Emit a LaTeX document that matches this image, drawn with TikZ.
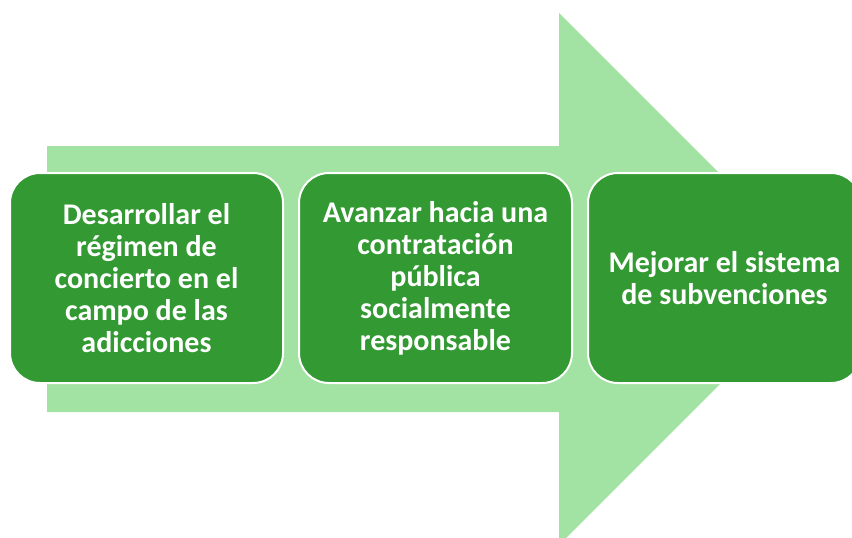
\documentclass[tikz,border=0pt]{standalone}
\usepackage{fontspec}
\setmainfont{Carlito}
\definecolor{darkg}{HTML}{339933}
\definecolor{lightg}{HTML}{A2E2A2}
\begin{document}
\begin{tikzpicture}[x=1pt,y=-1pt,
  stepbox/.style={draw=white,line width=2pt,fill=darkg,rounded corners=30pt,
    minimum width=273pt,minimum height=210pt,inner sep=0pt,
    text=white,align=center,font=\bfseries\fontsize{30}{32}\selectfont}]
\useasboundingbox (0,0) rectangle (852,538);
\begin{scope}
\clip (0,0) rectangle (852,538);
\fill[lightg] (47,146) -- (559,146) -- (559,13) -- (825,279) -- (559,545) -- (559,412) -- (47,412) -- cycle;
\node[stepbox] (a) at (146.5,278) {Desarrollar el\\régimen de\\concierto en el\\campo de las\\adicciones};
\node[stepbox] (b) at (435.5,278) {Avanzar hacia una\\contratación\\pública\\socialmente\\responsable};
\node[stepbox] (c) at (724.5,278) {Mejorar el sistema\\de subvenciones};
\end{scope}
\end{tikzpicture}
\end{document}
